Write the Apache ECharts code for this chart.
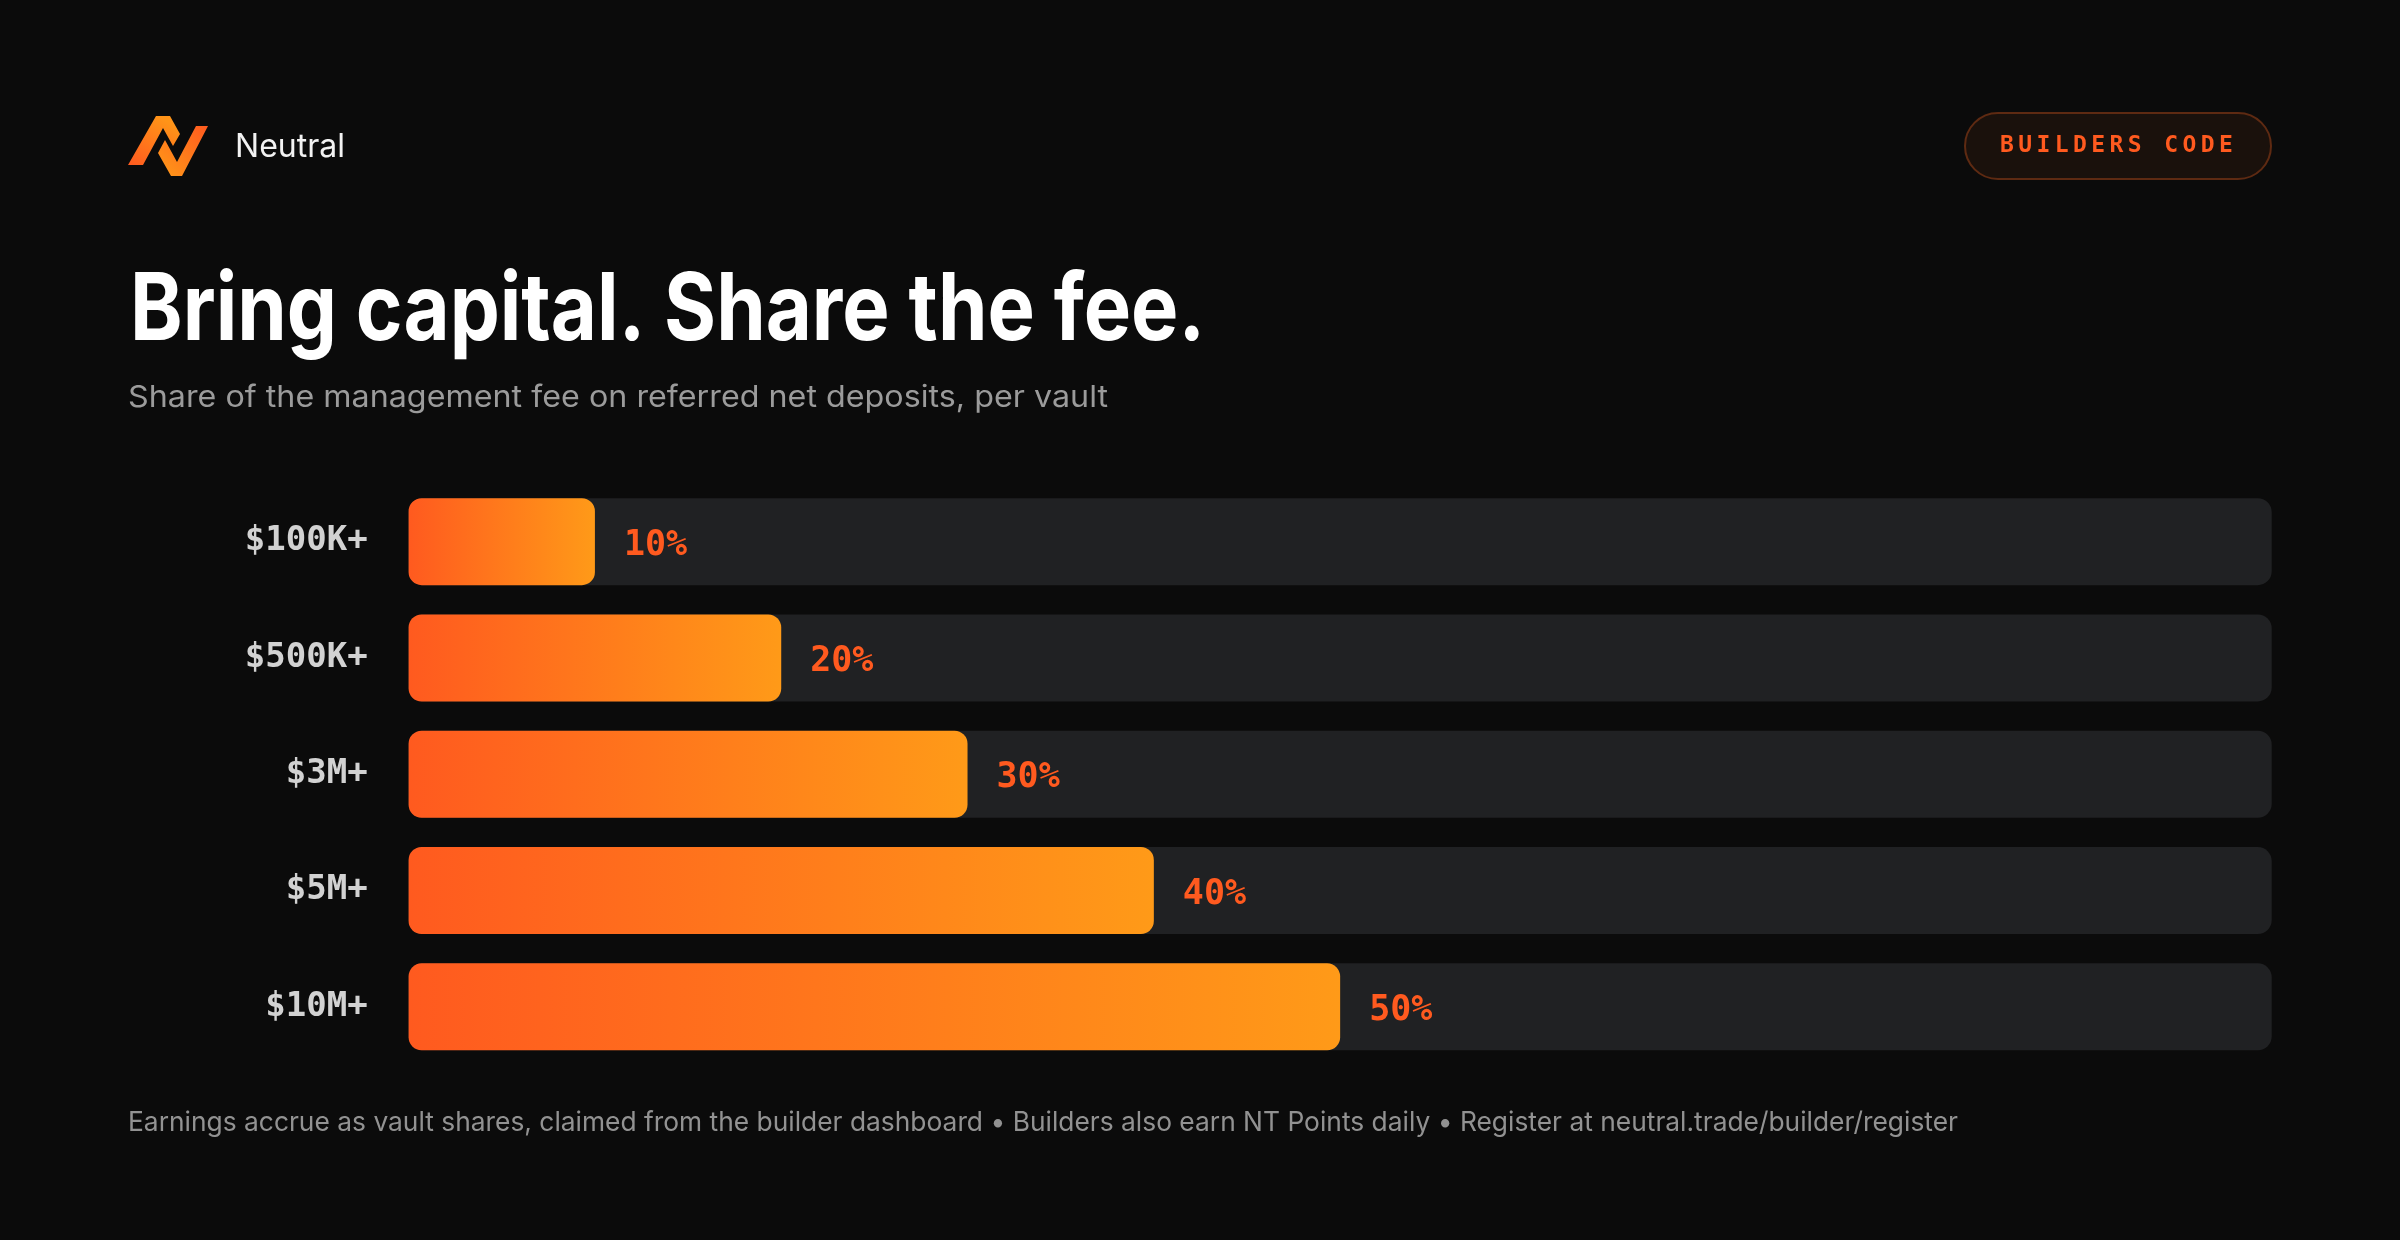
<!DOCTYPE html>
<html><head><meta charset="utf-8">
<script src="https://cdn.jsdelivr.net/npm/echarts@6/dist/echarts.min.js"></script>
<style>html,body{margin:0;background:#0b0b0b}#c{width:2400px;height:1240px}</style>
</head><body><div id="c"></div>
<script>
const tiers = ['$100K+', '$500K+', '$3M+', '$5M+', '$10M+'];
const shares = [10, 20, 30, 40, 50];
const titleText = 'Bring capital. Share the fee.';
const subtitleText = 'Share of the management fee on referred net deposits, per vault';
const footerText = 'Earnings accrue as vault shares, claimed from the builder dashboard \u2022 Builders also earn NT Points daily \u2022 Register at neutral.trade/builder/register';
const brandText = 'Neutral';
const badgeText = 'BUILDERS CODE';

const SANS = 'Inter, "Noto Sans", sans-serif';
const MONO = '"DejaVu Sans Mono", "Liberation Mono", monospace';

const mctx = document.createElement('canvas').getContext('2d');
function fit(text, font, target) { mctx.font = font; return target / mctx.measureText(text).width; }

const titleFont = '700 93px ' + SANS;
const subFont = '400 30px ' + SANS;
const footFont = '400 27px ' + SANS;
const brandFont = '400 32px ' + SANS;
const badgeFont = '700 23px ' + MONO;

const grad = (x0, y0, x1, y1, a, b) => new echarts.graphic.LinearGradient(x0, y0, x1, y1, [{offset: 0, color: a}, {offset: 1, color: b}]);

const badgeChars = badgeText.split('').map((ch, i) => ({
  type: 'text', x: 2007 + i * 18.25, y: 146,
  style: {text: ch, font: badgeFont, fill: '#ff5a1f', textAlign: 'center', textVerticalAlign: 'middle'}
}));

const graphics = [
  {type: 'polygon', shape: {points: [[128,165],[156,116],[170,116],[180,134],[173,146],[163,128],[143,165]]},
   style: {fill: grad(0, 1, 0.6, 0, '#ff5a1f', '#ff9418')}},
  {type: 'polygon', shape: {points: [[158,153],[165,140],[177,162],[196,126],[208,126],[182,176],[171,176]]},
   style: {fill: grad(0, 1, 1, 0, '#ff9a18', '#ff5a1f')}},
  {type: 'text', x: 235, y: 147, scaleX: fit(brandText, brandFont, 110),
   style: {text: brandText, font: brandFont, fill: '#f2f2f2', textVerticalAlign: 'middle'}},
  {type: 'rect', shape: {x: 1965, y: 113, width: 306, height: 66, r: 33},
   style: {fill: '#1a110c', stroke: '#5e2a12', lineWidth: 2}},
  ...badgeChars,
  {type: 'text', x: 130, y: 312, scaleX: fit(titleText, titleFont, 1075),
   style: {text: titleText, font: titleFont, fill: '#ffffff', textVerticalAlign: 'middle'}},
  {type: 'text', x: 128, y: 398, scaleX: fit(subtitleText, subFont, 980),
   style: {text: subtitleText, font: subFont, fill: '#9b9b9b', textVerticalAlign: 'middle'}},
  {type: 'text', x: 128, y: 1123, scaleX: fit(footerText, footFont, 1830),
   style: {text: footerText, font: footFont, fill: '#929292', textVerticalAlign: 'middle'}}
];

const chart = echarts.init(document.getElementById('c'));
chart.setOption({
  backgroundColor: '#0b0b0b',
  animation: false,
  grid: {left: 408.6, right: 128.3, top: 483.5, bottom: 175},
  xAxis: {type: 'value', min: 0, max: 100, show: false},
  yAxis: {
    type: 'category', data: tiers, inverse: true,
    axisLine: {show: false}, axisTick: {show: false}, splitLine: {show: false},
    axisLabel: {margin: 41, color: '#d2d2d2', fontFamily: MONO, fontSize: 34, fontWeight: 'bold', padding: [8, 0, 0, 0]}
  },
  series: [{
    type: 'bar', data: shares, barWidth: 87,
    showBackground: true,
    backgroundStyle: {color: '#202123', borderRadius: 14},
    itemStyle: {borderRadius: 13, color: grad(0, 0, 1, 0, '#ff5a1f', '#ff9a18')},
    label: {show: true, position: 'right', distance: 29, offset: [0, 4], formatter: '{c}%', color: '#ff5a1f',
            fontFamily: MONO, fontSize: 35, fontWeight: 'bold'}
  }],
  graphic: graphics
});
</script>
</body></html>
